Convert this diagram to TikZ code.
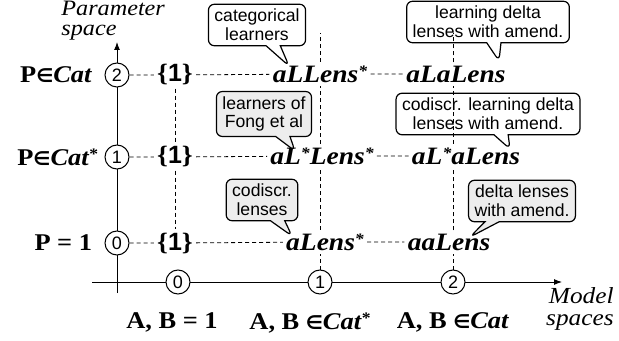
\documentclass[tikz,border=0pt]{standalone}
\usepackage{fontspec}
\setmainfont{Liberation Serif}[FakeStretch=1.1]
\setsansfont{Liberation Sans}
\newfontfamily\symfont{DejaVu Sans}
\usetikzlibrary{positioning,shapes.callouts,arrows.meta}

\definecolor{notegray}{HTML}{EDEDED}
\newcommand{\inset}{{\symfont\bfseries\fontsize{9.5}{9.5}\selectfont ∈}}
\newcommand{\Cat}{\textit{Cat}}
\newcommand{\sstar}{\raisebox{0.55ex}{\fontsize{8}{8}\selectfont *}}

\begin{document}
\begin{tikzpicture}[x=0.5pt, y=-0.5pt,
    axis/.style={line width=0.5pt, -{Latex[length=4pt,width=3pt]}},
    axisnum/.style={circle, draw, line width=0.5pt, fill=white, minimum size=12pt, inner sep=0pt,
        font=\sffamily\fontsize{9}{9}\selectfont},
    spec/.style={font=\fontsize{12}{12}\selectfont\bfseries, inner sep=1pt},
    unit/.style={font=\fontsize{12.5}{12.5}\selectfont\bfseries, inner sep=1.5pt},
    lens/.style={font=\fontsize{12.5}{12.5}\selectfont\bfseries\itshape, inner sep=1.5pt},
    note/.style={rectangle callout, draw, line width=0.6pt, rounded corners=3pt, align=center,
        inner xsep=3pt, inner ysep=2.5pt, fill=white,
        font=\sffamily\fontsize{8.8}{9.3}\selectfont},
    grid/.style={line width=0.4pt, dash pattern=on 2pt off 1.5pt}]
    \useasboundingbox (0,0) rectangle (619,341);

    % axes
    \coordinate (xfrom) at (92,282);
    \coordinate (xto) at (562,282);
    \coordinate (yfrom) at (117,293);
    \coordinate (yto) at (117,42);
    \draw[axis] (xfrom) -- (xto);
    \draw[axis] (yfrom) -- (yto);
    \node[anchor=north west, align=left, inner sep=0pt,
        font=\itshape\fontsize{11}{10}\selectfont] (ptitle) at (61,1) {Parameter\\space};
    \node[anchor=east, align=right, inner sep=0pt,
        font=\itshape\fontsize{11.5}{11}\selectfont] (mtitle) at (614,309) {Model\\spaces};

    % points on the axes
    \foreach \n/\y in {0/243,1/157,2/75}
        \node[axisnum] (p\n) at (117,\y) {\n};
    \foreach \n/\x in {0/178,1/320,2/453}
        \node[axisnum] (m\n) at (\x,282) {\n};

    \node[spec, left=5pt of p2] (P2) {P\inset\Cat};
    \node[spec, left=2pt of p1] (P1) {P\inset\Cat\sstar};
    \node[spec, left=5pt of p0] (P0) {P = 1};
    \node[spec, below=8pt of m0, xshift=-3pt] (M0) {A, B = 1};
    \node[spec, below=8pt of m1, xshift=-5pt] (M1) {A, B \inset\Cat\sstar};
    \node[spec, below=8pt of m2] (M2) {A, B \inset\Cat};

    % the lens classes
    \foreach \n/\y in {0/243,1/157,2/75}
        \node[unit] (u\n) at (175,\y) {\{\textsf{1}\}};
    \node[lens] (aLLens) at (320,74) {aLLens\sstar};
    \node[lens] (aLaLens) at (456,74) {aLaLens};
    \node[lens] (aLsLens) at (322,156) {aL\sstar Lens\sstar};
    \node[lens] (aLsaLens) at (466,156) {aL\sstar aLens};
    \node[lens] (aLens) at (325,242) {aLens\sstar};
    \node[lens] (aaLens) at (449,242) {aaLens};

    % callouts
    \node[note, callout absolute pointer={(289,66)}] (cat) at (257,25) {categorical\\learners};
    \node[note, callout absolute pointer={(499,61)}] (ldl) at (488,22) {learning delta\\lenses with amend.};
    \node[note, fill=notegray, callout absolute pointer={(295,151)}] (fong) at (264,114) {learners of\\Fong et al};
    \node[note, callout absolute pointer={(510,149)}] (cldl) at (488,114) {codiscr. learning delta\\lenses with amend.};
    \node[note, fill=notegray, callout absolute pointer={(292,236)}] (codl) at (262,200) {codiscr.\\lenses};
    \node[note, fill=notegray, callout absolute pointer={(470,237)}] (dla) at (522,201) {delta lenses\\with amend.};

    % dashed grid
    \draw[grid] (p2) -- (u2) -- (aLLens) -- (aLaLens);
    \draw[grid] (p1) -- (u1) -- (aLsLens) -- (aLsaLens);
    \draw[grid] (p0) -- (u0) -- (aLens) -- (aaLens);
    \draw[grid] (u2) -- (u1) -- (u0);
    \coordinate (top1) at (m1 |- 0,33);
    \coordinate (top2) at (m2 |- 0,33);
    \draw[grid] (m1) -- (m1 |- aLens.south);
    \draw[grid] (m1 |- aLens.north) -- (m1 |- aLsLens.south);
    \draw[grid] (m1 |- aLsLens.north) -- (m1 |- aLLens.south);
    \draw[grid] (m1 |- aLLens.north) -- (top1);
    \draw[grid] (m2) -- (m2 |- aaLens.south);
    \draw[grid] (m2 |- aaLens.north) -- (m2 |- aLsaLens.south);
    \draw[grid] (m2 |- aLsaLens.north) -- (m2 |- aLaLens.south);
    \draw[grid] (m2 |- aLaLens.north) -- (top2);
\end{tikzpicture}
\end{document}
